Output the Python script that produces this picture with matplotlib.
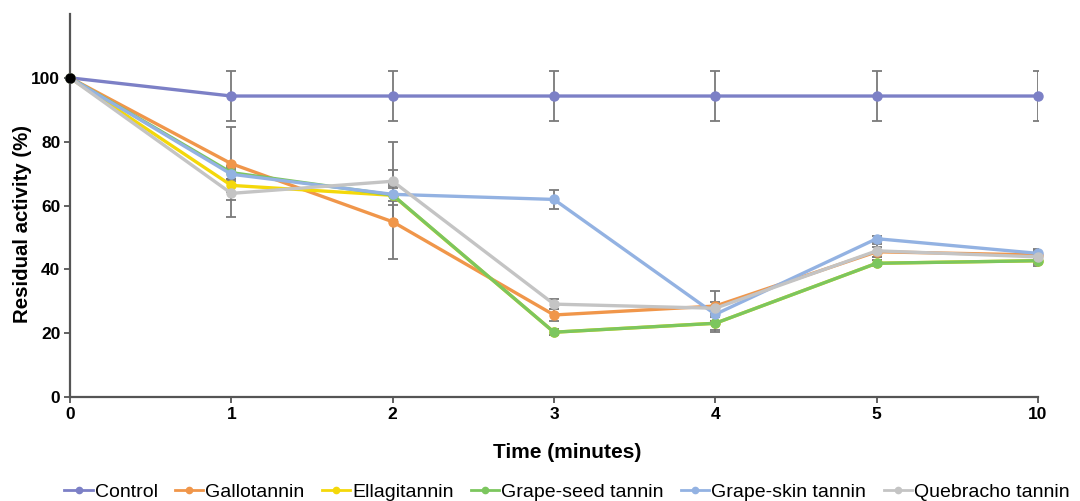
import matplotlib
matplotlib.use("Agg")
import matplotlib.pyplot as plt
from matplotlib.lines import Line2D
import numpy as np

# time points (categorical x-axis)
time_labels = ["0", "1", "2", "3", "4", "5", "10"]

series_names = ["Control", "Gallotannin", "Ellagitannin", "Grape-seed tannin",
                "Grape-skin tannin", "Quebracho tannin"]

control = [100, 94.3, 94.3, 94.3, 94.3, 94.3, 94.3]
gallotannin = [100, 73.1, 54.9, 25.7, 28.5, 45.5, 44.5]
ellagitannin = [100, 66.3, 63.2, 20.3, 23.1, 41.9, 42.7]
grape_seed = [100, 70.3, 63.3, 20.3, 23.1, 41.9, 42.7]
grape_skin = [100, 69.8, 63.5, 61.9, 25.9, 49.6, 45.0]
quebracho = [100, 63.8, 67.6, 29.1, 27.8, 45.8, 43.9]

control_err = [0, 7.7, 7.7, 7.7, 7.7, 7.7, 7.7]
gallotannin_err = [0, 11.5, 11.7, 2.0, 4.7, 1.5, 1.5]
ellagitannin_err = [0, 2.0, 3.0, 1.0, 2.0, 1.0, 1.0]
grape_seed_err = [0, 2.0, 7.7, 1.0, 2.8, 1.0, 1.5]
grape_skin_err = [0, 2.0, 2.0, 3.0, 2.0, 1.0, 1.5]
quebracho_err = [0, 7.3, 12.3, 1.5, 2.0, 2.0, 1.5]

COLOURS = ["#7c80c6", "#f0964a", "#f4d80a", "#7cc65e", "#93b2e2", "#c4c4c4"]
ERR_COLOUR = "#7a7a7a"

plt.rcParams.update({
    "font.family": ["Liberation Sans", "DejaVu Sans"],
})

fig = plt.figure(figsize=(10.8, 5.01), dpi=100)
ax = fig.add_axes([70 / 1080, 1 - 397 / 501, (1038 - 70) / 1080, (397 - 14) / 501])

x = np.arange(len(time_labels))
all_vals = [control, gallotannin, ellagitannin, grape_seed, grape_skin, quebracho]
all_errs = [control_err, gallotannin_err, ellagitannin_err, grape_seed_err,
            grape_skin_err, quebracho_err]

handles = []
for name, vals, errs, col in zip(series_names, all_vals, all_errs, COLOURS):
    ax.errorbar(x, vals, yerr=errs, fmt="none", ecolor=ERR_COLOUR,
                elinewidth=1.3, capsize=3.5, capthick=1.3, zorder=2)
    ax.plot(x, vals, "-o", color=col, lw=2.4, ms=6.5, zorder=3, clip_on=False)
    # thinner legend proxy, as in the original
    handles.append(Line2D([], [], color=col, lw=2.0, marker="o", ms=4.5, label=name))

# black start point
ax.plot(x[0], control[0], "o", color="black", ms=6.5, zorder=5, clip_on=False)

ax.set_xlim(0, len(time_labels) - 1)
ax.set_ylim(0, 120)
ax.set_xticks(x)
ax.set_xticklabels(time_labels)
ax.set_yticks([0, 20, 40, 60, 80, 100])
for lab in ax.get_xticklabels() + ax.get_yticklabels():
    lab.set_fontweight("bold")
    lab.set_fontsize(12.5)

ax.spines["top"].set_visible(False)
ax.spines["right"].set_visible(False)
for s in ("left", "bottom"):
    ax.spines[s].set_color("#555555")
    ax.spines[s].set_linewidth(1.6)
ax.tick_params(axis="both", direction="out", length=4, width=1.3,
               color="#555555", pad=3)

ax.set_ylabel("Residual activity (%)", fontsize=14.7, fontweight="bold")
ax.yaxis.set_label_coords(-38 / 968, 0.452)
ax.set_xlabel("Time (minutes)", fontsize=15, fontweight="bold")
ax.xaxis.set_label_coords(0.514, -46 / 383)

fig.legend(handles=handles, loc="center", bbox_to_anchor=(0.525, 0.018), ncol=6,
           frameon=False, handlelength=1.45, handletextpad=0.1, columnspacing=0.9,
           prop={"size": 14})

fig.savefig("out.png", dpi=100)
